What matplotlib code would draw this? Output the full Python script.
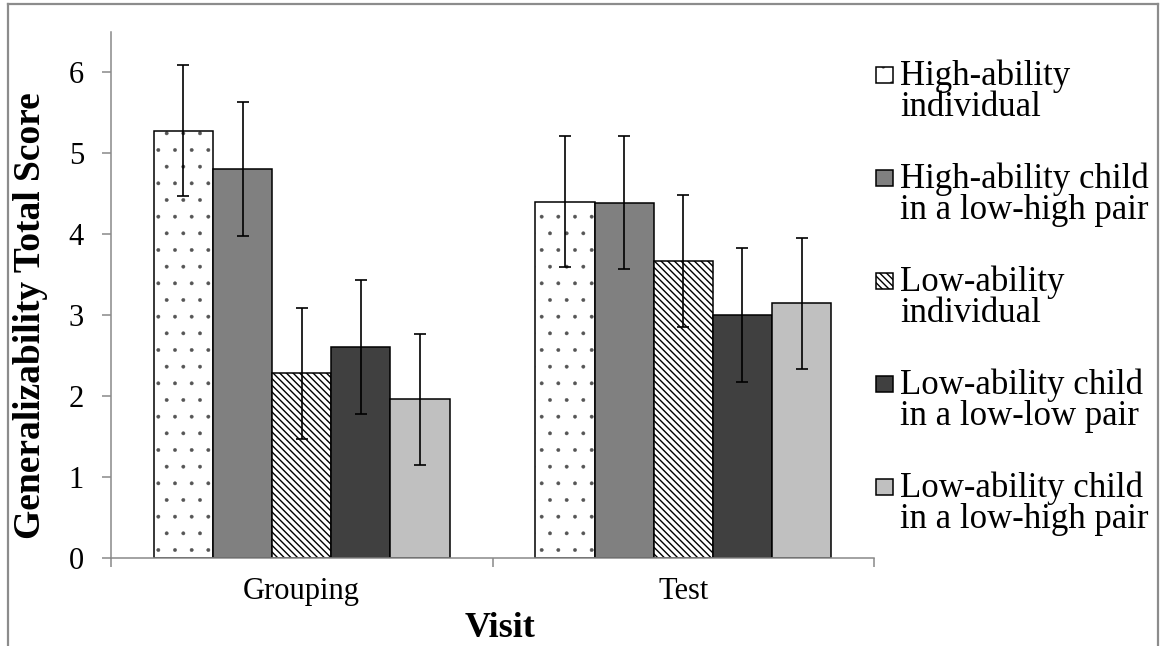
import numpy as np
import matplotlib
matplotlib.use("Agg")
import matplotlib.pyplot as plt
from matplotlib.patches import Rectangle
from matplotlib.lines import Line2D

plt.rcParams['font.family'] = ['Liberation Serif', 'DejaVu Serif']

visits = ['Grouping', 'Test']
series = ['High-ability\nindividual',
          'High-ability child\nin a low-high pair',
          'Low-ability\nindividual',
          'Low-ability child\nin a low-low pair',
          'Low-ability child\nin a low-high pair']
grouping_means = [5.28, 4.81, 2.28, 2.61, 1.96]
test_means = [4.40, 4.39, 3.67, 3.00, 3.15]
grouping_err = [0.81, 0.83, 0.81, 0.83, 0.81]
test_err = [0.81, 0.82, 0.81, 0.83, 0.81]

colors = ['white', '#808080', 'white', '#404040', '#c0c0c0']
hatches = ['.', None, '\\\\\\\\\\', None, None]
hatch_colors = ['#555555', 'black', 'black', 'black', 'black']
hatch_lw = [0.3, 1.0, 1.0, 1.0, 1.0]

fig = plt.figure(figsize=(11.6, 6.46), dpi=100)
ax = fig.add_axes([111 / 1160, 1 - 558 / 646, (874 - 111) / 1160, (558 - 32) / 646])

x = np.arange(len(visits))
w = 0.155
for i in range(len(series)):
    means = [grouping_means[i], test_means[i]]
    errs = [grouping_err[i], test_err[i]]
    with plt.rc_context({'hatch.linewidth': hatch_lw[i]}):
        # hatch takes the edge colour, so fill first, then outline on top
        ax.bar(x + (i - 2) * w, means, w, color=colors[i], hatch=hatches[i],
               edgecolor=hatch_colors[i], linewidth=0, zorder=2)
    ax.bar(x + (i - 2) * w, means, w, fill=False, edgecolor='black',
           linewidth=1.1, zorder=2)
    ax.errorbar(x + (i - 2) * w, means, yerr=errs, fmt='none', ecolor='black',
                elinewidth=1.2, capsize=4.5, capthick=1.2, zorder=3)

ax.set_xlim(-0.5, 1.5)
ax.set_ylim(0, 6.5)
ax.set_yticks(range(0, 7))
ax.set_xticks([-0.5, 0.5, 1.5], minor=False)
ax.set_xticklabels([])
ax.set_xticks(x, minor=True)
ax.set_xticklabels(visits, minor=True, fontsize=22)
ax.tick_params(axis='x', which='minor', length=0, pad=14)
ax.tick_params(axis='x', which='major', length=6.5, width=1.1, color='#898989', direction='out')
ax.tick_params(axis='y', length=6.5, width=1.1, color='#898989', labelsize=22, pad=13)
for side in ['top', 'right']:
    ax.spines[side].set_visible(False)
for side in ['left', 'bottom']:
    ax.spines[side].set_color('#898989')
    ax.spines[side].set_linewidth(1.1)

fig.text(31 / 1160, 1 - 316 / 646, 'Generalizability Total Score', rotation=90,
         ha='center', va='center', fontsize=27, fontweight='bold')
fig.text(500 / 1160, 1 - 637 / 646, 'Visit', ha='center', va='baseline',
         fontsize=26, fontweight='bold')

# legend drawn by hand so the swatch sits on the first text line
for i, lab in enumerate(series):
    base = 85 + 103 * i
    with plt.rc_context({'hatch.linewidth': hatch_lw[i]}):
        fig.patches.append(Rectangle((876 / 1160, 1 - (base - 2) / 646), 17 / 1160, 16 / 646,
                                     transform=fig.transFigure, facecolor=colors[i],
                                     hatch=hatches[i], edgecolor=hatch_colors[i], linewidth=0))
    fig.patches.append(Rectangle((876 / 1160, 1 - (base - 2) / 646), 17 / 1160, 16 / 646,
                                 transform=fig.transFigure, fill=False,
                                 edgecolor='black', linewidth=1.1))
    for j, line in enumerate(lab.split('\n')):
        fig.text(900 / 1160, 1 - (base + 31 * j) / 646, line, ha='left',
                 va='baseline', fontsize=25)

# outer chart border (open at the bottom)
bc = '#8c8c8c'
fig.add_artist(Line2D([8 / 1160, 8 / 1160], [0, 1 - 4 / 646], color=bc, lw=1.6))
fig.add_artist(Line2D([8 / 1160, 1158 / 1160], [1 - 4 / 646, 1 - 4 / 646], color=bc, lw=1.6))
fig.add_artist(Line2D([1158 / 1160, 1158 / 1160], [0, 1 - 4 / 646], color=bc, lw=1.6))

fig.savefig('out.png', dpi=100)
